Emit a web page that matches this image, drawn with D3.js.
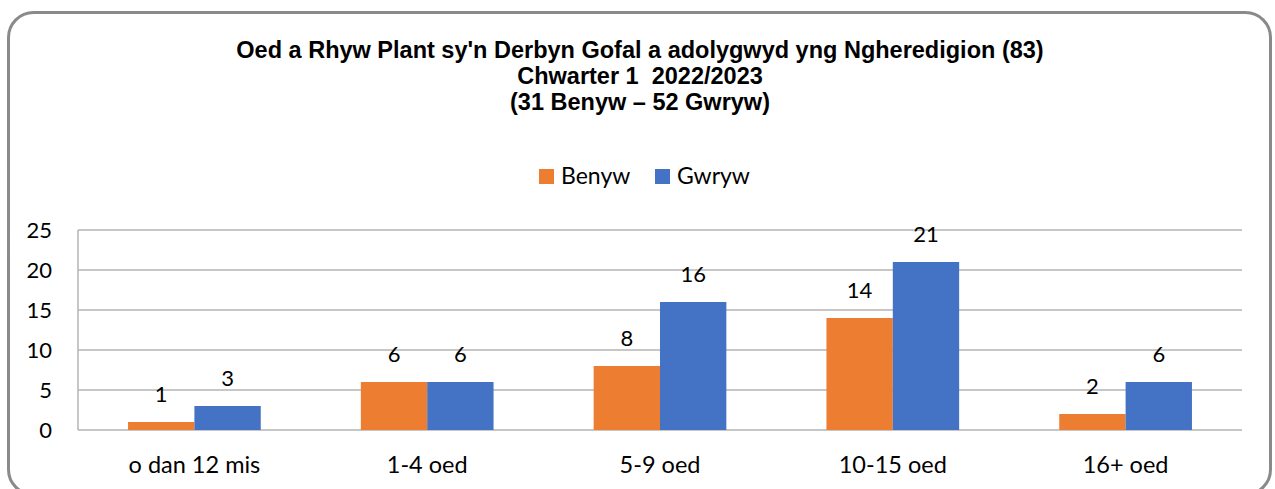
<!DOCTYPE html>
<html>
<head>
<meta charset="utf-8">
<script src="https://cdn.jsdelivr.net/npm/d3@7"></script>
<style>
  body { margin: 0; background: #fff; }
</style>
</head>
<body>
<div id="chart"></div>
<script>
// data
const categories = ['o dan 12 mis', '1-4 oed', '5-9 oed', '10-15 oed', '16+ oed'];
const seriesNames = ['Benyw', 'Gwryw'];
const benyw = [1, 6, 8, 14, 2];
const gwryw = [3, 6, 16, 21, 6];
const yTicks = [0, 5, 10, 15, 20, 25];
const titleLines = [
    "Oed a Rhyw Plant sy'n Derbyn Gofal a adolygwyd yng Ngheredigion (83)",
    'Chwarter 1  2022/2023',
    '(31 Benyw \u2013 52 Gwryw)'
];

const W = 1275, H = 489;
const margin = {top: 230, right: 33, bottom: 59, left: 78};
const width = W - margin.left - margin.right;
const height = H - margin.top - margin.bottom;
const colors = {Benyw: '#ED7D31', Gwryw: '#4472C4'};
const bodyFont = 'Lato, "Noto Sans", sans-serif';

const svg = d3.select('#chart').append('svg')
    .attr('width', W)
    .attr('height', H);

// outer rounded frame
svg.append('rect')
    .attr('x', 8.5).attr('y', 12.5)
    .attr('width', 1262).attr('height', 482)
    .attr('rx', 25)
    .attr('fill', 'none')
    .attr('stroke', '#8a8a8a')
    .attr('stroke-width', 3);

// title (slightly condensed bold, like the original)
const titleX = 640;
svg.append('text')
    .attr('text-anchor', 'middle')
    .attr('font-family', '"Liberation Sans", Arial, sans-serif')
    .attr('font-weight', 'bold')
    .attr('font-size', 23.5)
    .attr('fill', '#000')
    .attr('transform', 'translate(' + titleX + ',0) scale(1,1)')
    .style('white-space', 'pre')
    .selectAll('tspan')
    .data(titleLines)
    .join('tspan')
    .attr('x', 0)
    .attr('y', (d, i) => 58 + i * 26)
    .text(d => d);

// legend
const legend = svg.append('g').attr('font-family', bodyFont).attr('font-size', 23);
const legendX = [539, 655];
seriesNames.forEach((s, i) => {
    legend.append('rect')
        .attr('x', legendX[i]).attr('y', 169)
        .attr('width', 15).attr('height', 15)
        .attr('fill', colors[s]);
    legend.append('text')
        .attr('x', legendX[i] + 22).attr('y', 184)
        .attr('fill', '#000')
        .text(s);
});

const g = svg.append('g')
    .attr('transform', 'translate(' + margin.left + ',' + margin.top + ')');

// scales
const x0 = d3.scaleBand()
    .domain(categories)
    .range([0, width])
    .paddingInner(0.43)
    .paddingOuter(0.215);

const x1 = d3.scaleBand()
    .domain(seriesNames)
    .range([0, x0.bandwidth()]);

const y = d3.scaleLinear()
    .domain([0, 25])
    .range([height, 0]);

// gridlines
g.selectAll('.grid')
    .data(yTicks)
    .join('line')
    .attr('class', 'grid')
    .attr('x1', 0).attr('x2', width)
    .attr('y1', d => y(d)).attr('y2', d => y(d))
    .attr('stroke', '#b4b4b4')
    .attr('stroke-width', 1.5);

// left axis line
g.append('line')
    .attr('x1', 0).attr('x2', 0)
    .attr('y1', 0).attr('y2', height)
    .attr('stroke', '#b4b4b4')
    .attr('stroke-width', 1.5);

// y axis labels
const yAxis = d3.axisLeft(y).tickValues(yTicks).tickSize(0).tickPadding(26);
g.append('g')
    .call(yAxis)
    .call(a => a.select('.domain').remove())
    .selectAll('text')
    .attr('font-family', bodyFont)
    .attr('font-size', 22)
    .attr('fill', '#000');

// x axis labels
const xAxis = d3.axisBottom(x0).tickSize(0).tickPadding(26);
g.append('g')
    .attr('transform', 'translate(0,' + height + ')')
    .call(xAxis)
    .call(a => a.select('.domain').remove())
    .selectAll('text')
    .attr('font-family', bodyFont)
    .attr('font-size', 23.5)
    .attr('fill', '#000');

// bars
const rows = categories.map((c, i) => ({
    cat: c,
    vals: [{key: 'Benyw', v: benyw[i]}, {key: 'Gwryw', v: gwryw[i]}]
}));

const groups = g.selectAll('.grp')
    .data(rows)
    .join('g')
    .attr('class', 'grp')
    .attr('transform', d => 'translate(' + x0(d.cat) + ',0)');

groups.selectAll('rect')
    .data(d => d.vals)
    .join('rect')
    .attr('x', d => x1(d.key))
    .attr('y', d => y(d.v))
    .attr('width', x1.bandwidth())
    .attr('height', d => height - y(d.v))
    .attr('fill', d => colors[d.key]);

groups.selectAll('text.lbl')
    .data(d => d.vals)
    .join('text')
    .attr('class', 'lbl')
    .attr('x', d => x1(d.key) + x1.bandwidth() / 2)
    .attr('y', d => y(d.v) - 20)
    .attr('text-anchor', 'middle')
    .attr('font-family', bodyFont)
    .attr('font-size', 22)
    .attr('fill', '#000')
    .text(d => d.v);
</script>
</body>
</html>
